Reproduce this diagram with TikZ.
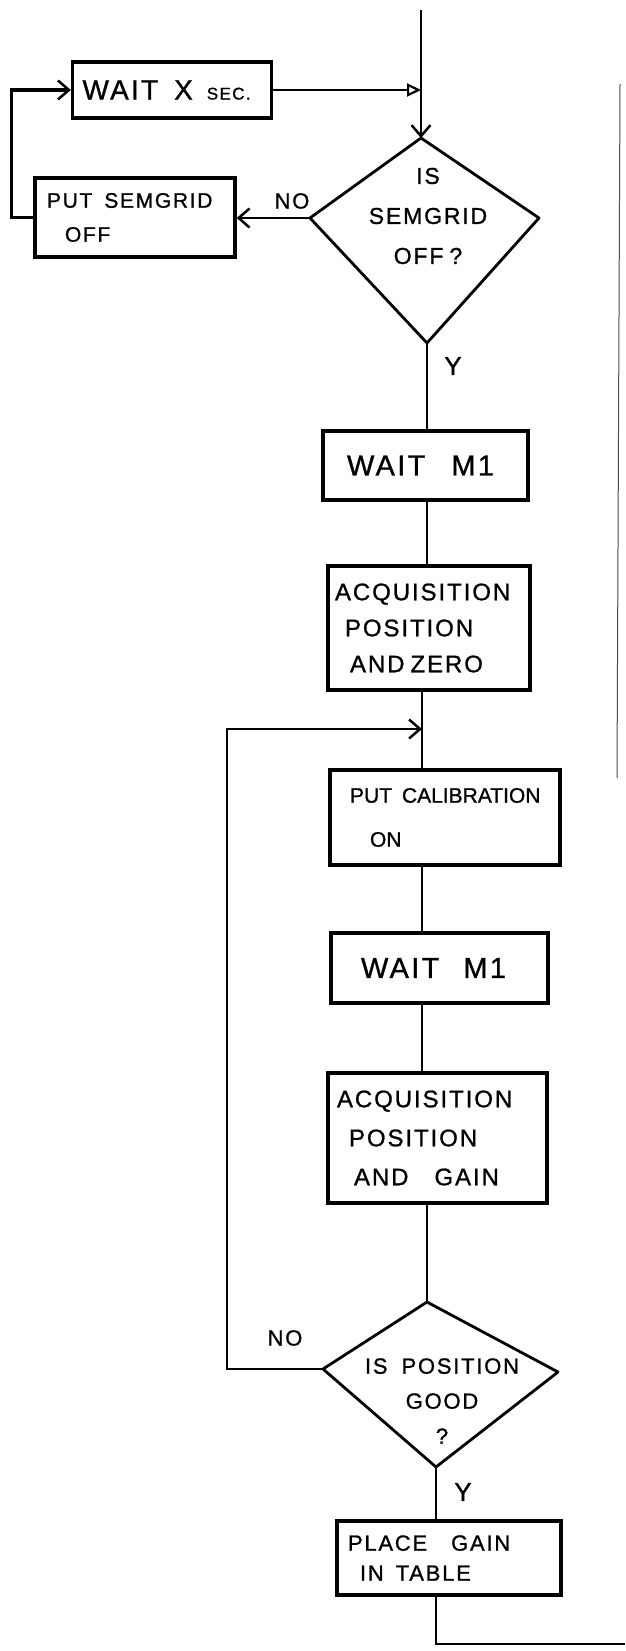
\documentclass[tikz,border=0pt]{standalone}
\usepackage{fontspec}
\setmainfont{Liberation Sans}
\newfontfamily\hand[LetterSpace=8,FakeBold=1]{Liberation Sans}
\newfontfamily\handn[FakeBold=1]{Liberation Sans}
\usetikzlibrary{arrows.meta}
\newcommand\gap[1]{\nobreak\hspace*{#1}}
\begin{document}
\begin{tikzpicture}[x=1pt,y=-1pt,
  box/.style={draw, line width=3.3pt, rectangle, inner ysep=0pt, align=left},
  conn/.style={line width=2.6pt},
  arr/.style={-{Straight Barb[length=11pt,width=19pt,line width=2.5pt]}},
  oarr/.style={-{Triangle[open,length=14pt,width=13pt,line width=2.2pt]}},
  lbl/.style={inner sep=0pt, font=\hand\fontsize{22}{26}\selectfont},
  dia/.style={draw, line width=2.8pt, line join=round}]

\useasboundingbox (0,0) rectangle (625,1651);

% boxes
\node[box, minimum height=56pt, text width=179pt, inner xsep=10pt,
      font=\hand\fontsize{28}{32}\selectfont] (wx) at (172,90)
  {\mbox{WAIT\gap{16pt}X\gap{14pt}{\fontsize{17}{17}\selectfont SEC.}}};
\node[box, minimum height=79pt, text width=176pt, inner xsep=12pt,
      font=\hand\fontsize{21}{34}\selectfont] (ps) at (135,217.5)
  {\mbox{PUT\gap{12pt}SEMGRID}\\\gap{18pt}OFF};
\node[box, minimum height=69pt, text width=157pt, inner xsep=24pt,
      font=\hand\fontsize{29}{32}\selectfont] (wm1) at (425.5,465.5)
  {\mbox{WAIT\gap{26pt}M1}};
\node[box, minimum height=124pt, text width=188pt, inner xsep=7pt,
      font=\hand\fontsize{24}{36}\selectfont] (az) at (429,628)
  {ACQUISITION\\\gap{10pt}POSITION\\\mbox{\gap{15pt}AND\gap{6pt}ZERO}};
\node[box, minimum height=95pt, text width=190pt, inner xsep=20pt,
      font=\handn\fontsize{21}{44}\selectfont] (pc) at (445,817.5)
  {\mbox{PUT\gap{10pt}CALIBRATION}\\\gap{20pt}ON};
\node[box, minimum height=70pt, text width=157pt, inner xsep=30pt,
      font=\hand\fontsize{29}{32}\selectfont] (wm2) at (439.5,968)
  {\mbox{WAIT\gap{24pt}M1}};
\node[box, minimum height=130pt, text width=201pt, inner xsep=9pt,
      font=\hand\fontsize{24}{39}\selectfont] (ag) at (437.5,1138)
  {ACQUISITION\\\gap{12pt}POSITION\\\mbox{\gap{17pt}AND\gap{26pt}GAIN}};
\node[box, minimum height=74pt, text width=202pt, inner xsep=11pt,
      font=\hand\fontsize{22}{30}\selectfont] (pt) at (449,1558)
  {\mbox{PLACE\gap{24pt}GAIN}\\\mbox{\gap{12pt}IN\gap{12pt}TABLE}};

% diamond 1
\coordinate (d1n) at (421,138);
\coordinate (d1e) at (539,218);
\coordinate (d1s) at (427,343);
\coordinate (d1w) at (310,218);
\draw[dia] (d1n) -- (d1e) -- (d1s) -- (d1w) -- cycle;
\node[lbl, align=center, font=\hand\fontsize{23}{40}\selectfont] (t1) at (428,216)
  {IS\\SEMGRID\\OFF\gap{6pt}?};

% diamond 2
\coordinate (d2n) at (427,1302);
\coordinate (d2e) at (558,1372);
\coordinate (d2s) at (436,1467);
\coordinate (d2w) at (323,1369);
\draw[dia] (d2n) -- (d2e) -- (d2s) -- (d2w) -- cycle;
\node[lbl, align=center, font=\hand\fontsize{22}{35}\selectfont] (t2) at (442,1401)
  {IS\gap{14pt}POSITION\\GOOD\hspace*{40pt}\\?};

% connectors
\coordinate (top) at (421,10);
\coordinate (ret) at (422,729);
\coordinate (exit) at (625,1644);

\draw[conn, arr] (top) -- (d1n);
\draw[conn, oarr] (wx.east) -- (wx.east -| d1n);
\draw[conn, arr] (d1w) -- (d1w -| ps.east);
\node[lbl] (no1) at (292,201) {NO};
\draw[conn, line width=3.4pt, arr] (ps.west) -- ++(-22,0) |- (wx.west);
\draw[conn] (d1s) -- (d1s |- wm1.north);
\node[lbl, font=\hand\fontsize{26}{30}\selectfont] (y1) at (453,366) {Y};
\draw[conn] (d1s |- wm1.south) -- (d1s |- az.north);
\draw[conn] (az.south -| ret) -- (pc.north -| ret);
\draw[conn] (pc.south -| ret) -- (wm2.north -| ret);
\draw[conn] (wm2.south -| ret) -- (ag.north -| ret);
\draw[conn] (ag.south -| d2n) -- (d2n);
\draw[conn, arr] (d2w) -- ++(-96,0) |- (ret);
\node[lbl] (no2) at (285,1338) {NO};
\draw[conn] (d2s) -- (d2s |- pt.north);
\node[lbl, font=\hand\fontsize{26}{30}\selectfont] (y2) at (463,1492) {Y};
\draw[conn] (pt.south -| d2s) |- (exit);

% right page edge line
\coordinate (e1) at (620,84);
\coordinate (e2) at (617,778);
\draw[line width=1pt, black!70] (e1) -- (e2);
\end{tikzpicture}
\end{document}
